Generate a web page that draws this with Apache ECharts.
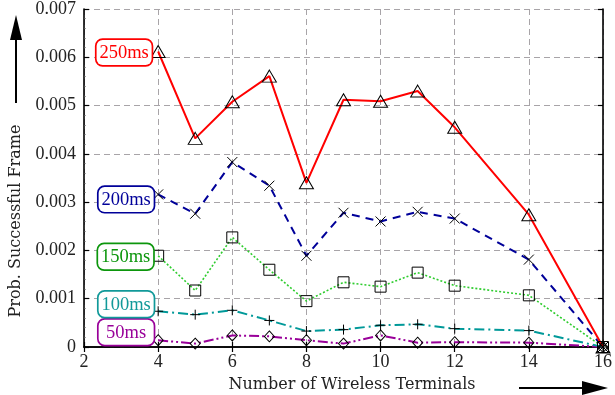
<!DOCTYPE html>
<html>
<head>
<meta charset="utf-8">
<script src="https://cdn.jsdelivr.net/npm/echarts@6/dist/echarts.min.js"></script>
<style>
  html, body { margin: 0; padding: 0; background: #fff; }
  #chart { width: 615px; height: 395px; }
</style>
</head>
<body>
<div id="chart"></div>
<script>
// Number of wireless terminals (x values)
const terminals = [4, 5, 6, 7, 8, 9, 10, 11, 12, 14, 16];

// Probability of a successful frame for each delay bound
const p250 = [0.00612, 0.00432, 0.00508, 0.00561, 0.00340, 0.00512, 0.00509, 0.00530, 0.00455, 0.00274, 0];
const p200 = [0.00316, 0.00276, 0.00383, 0.00334, 0.00189, 0.00278, 0.00260, 0.00280, 0.00266, 0.00181, 0];
const p150 = [0.00189, 0.00117, 0.00227, 0.00160, 0.00095, 0.00134, 0.00125, 0.00154, 0.00127, 0.00107, 0];
const p100 = [0.00074, 0.00067, 0.00076, 0.00055, 0.00033, 0.00036, 0.00045, 0.00047, 0.00038, 0.00034, 0];
const p50  = [0.00014, 0.00007, 0.00024, 0.00022, 0.00014, 0.00007, 0.00024, 0.00009, 0.00010, 0.00009, 0];

const seriesNames = ['250ms', '200ms', '150ms', '100ms', '50ms'];

// Axis ticks
const xTicks = [2, 4, 6, 8, 10, 12, 14, 16];
const yTickLabels = ['0', '0.001', '0.002', '0.003', '0.004', '0.005', '0.006', '0.007'];

const SERIF = '"Liberation Serif", "DejaVu Serif", serif';

const crossPath = 'path://M0,0L10,10M10,0L0,10';
const plusPath = 'path://M5,0L5,10M0,5L10,5';

function pairs(ys) {
  return terminals.map((x, i) => [x, ys[i]]);
}

function makeSeries(name, ys, color, labelColor, lineWidth, dash, symbol, symbolSize, labelOffsetY) {
  const data = pairs(ys).map((pt, i) => {
    if (i !== 0) return pt;
    return {
      value: pt,
      label: {
        show: true,
        position: 'left',
        distance: 0,
        offset: [1, labelOffsetY],
        formatter: '{t|' + name + '}',
        padding: [3, 2, 2, 2],
        borderColor: labelColor,
        borderWidth: 1.7,
        borderRadius: 6,
        backgroundColor: '#fff',
        rich: {
          t: {
            color: labelColor,
            fontFamily: SERIF,
            fontSize: 18.5,
            width: 51,
            align: 'center',
            lineHeight: 20
          }
        }
      }
    };
  });
  return {
    name: name,
    type: 'line',
    data: data,
    symbol: symbol,
    symbolSize: symbolSize,
    showAllSymbol: true,
    animation: false,
    lineStyle: { color: color, width: lineWidth, type: dash },
    itemStyle: { color: 'rgba(0,0,0,0)', borderColor: '#000', borderWidth: 1 },
    emphasis: { disabled: true },
    z: 3
  };
}

const chart = echarts.init(document.getElementById('chart'));

const gridColor = '#a8a4a8';

chart.setOption({
  animation: false,
  backgroundColor: '#fff',
  grid: { left: 84, right: 3, top: 9, bottom: 48, containLabel: false },
  xAxis: [
    {
      type: 'value', min: 2, max: 16, interval: 2,
      axisLine: { show: true, lineStyle: { color: '#000', width: 1.6 } },
      axisTick: { show: true, inside: true, length: 5, lineStyle: { color: '#000', width: 1.2 } },
      axisLabel: {
        color: '#222', fontFamily: SERIF, fontSize: 18, margin: 6,
        formatter: v => (xTicks.indexOf(v) >= 0 ? String(v) : '')
      },
      splitLine: { show: true, lineStyle: { color: gridColor, type: [6, 4], width: 1 } }
    },
    {
      type: 'value', min: 2, max: 16, interval: 2, position: 'top',
      axisLine: { show: true, lineStyle: { color: '#000', width: 1.6 } },
      axisTick: { show: true, inside: true, length: 5, lineStyle: { color: '#000', width: 1.2 } },
      axisLabel: { show: false },
      splitLine: { show: false }
    }
  ],
  yAxis: [
    {
      type: 'value', min: 0, max: 0.007, interval: 0.001,
      axisLine: { show: true, lineStyle: { color: '#000', width: 1.6 } },
      axisTick: { show: true, inside: true, length: 5, lineStyle: { color: '#000', width: 1.2 } },
      minorTick: { show: true, splitNumber: 5, length: 2, lineStyle: { color: '#666', width: 0.6 } },
      axisLabel: {
        color: '#222', fontFamily: SERIF, fontSize: 18, margin: 8,
        formatter: v => yTickLabels[Math.round(v * 1000)]
      },
      splitLine: { show: true, lineStyle: { color: gridColor, type: [6, 4], width: 1 } }
    },
    {
      type: 'value', min: 0, max: 0.007, interval: 0.001, position: 'right',
      axisLine: { show: true, lineStyle: { color: '#000', width: 1.6 } },
      axisTick: { show: true, inside: true, length: 5, lineStyle: { color: '#000', width: 1.2 } },
      axisLabel: { show: false },
      splitLine: { show: false }
    }
  ],
  series: [
    makeSeries(seriesNames[4], p50, '#990099', '#990099', 2, [10, 3, 2, 3, 2, 3], 'diamond', [10, 11], -8),
    makeSeries(seriesNames[3], p100, '#009999', '#119999', 2, [10, 4, 2, 4], plusPath, 10, -7),
    makeSeries(seriesNames[2], p150, '#2ecc2e', '#0c960c', 1.6, [2, 2], 'rect', 11, 1),
    makeSeries(seriesNames[1], p200, '#000099', '#000099', 2, [8, 6], crossPath, 10, 5),
    makeSeries(seriesNames[0], p250, '#ff0000', '#ff0000', 2, 'solid', 'triangle', [14, 12], 1)
  ],
  graphic: [
    // y-axis title with upward arrow
    {
      type: 'text', x: 16, y: 221, rotation: Math.PI / 2,
      style: {
        text: 'Prob. Successful Frame', fill: '#222',
        font: '16px "DejaVu Serif", serif', align: 'center', verticalAlign: 'middle'
      }
    },
    { type: 'line', shape: { x1: 16, y1: 103, x2: 16, y2: 34 }, style: { stroke: '#000', lineWidth: 2 } },
    { type: 'polygon', shape: { points: [[16, 15], [10, 40], [22, 40]] }, style: { fill: '#000' } },
    // x-axis title with rightward arrow
    {
      type: 'text', x: 352, y: 385,
      style: {
        text: 'Number of Wireless Terminals', fill: '#222',
        font: '16px "DejaVu Serif", serif', align: 'center', verticalAlign: 'middle'
      }
    },
    { type: 'line', shape: { x1: 519, y1: 388, x2: 588, y2: 388 }, style: { stroke: '#000', lineWidth: 2 } },
    { type: 'polygon', shape: { points: [[608, 388], [582, 381], [582, 395]] }, style: { fill: '#000' } }
  ]
});
</script>
</body>
</html>
